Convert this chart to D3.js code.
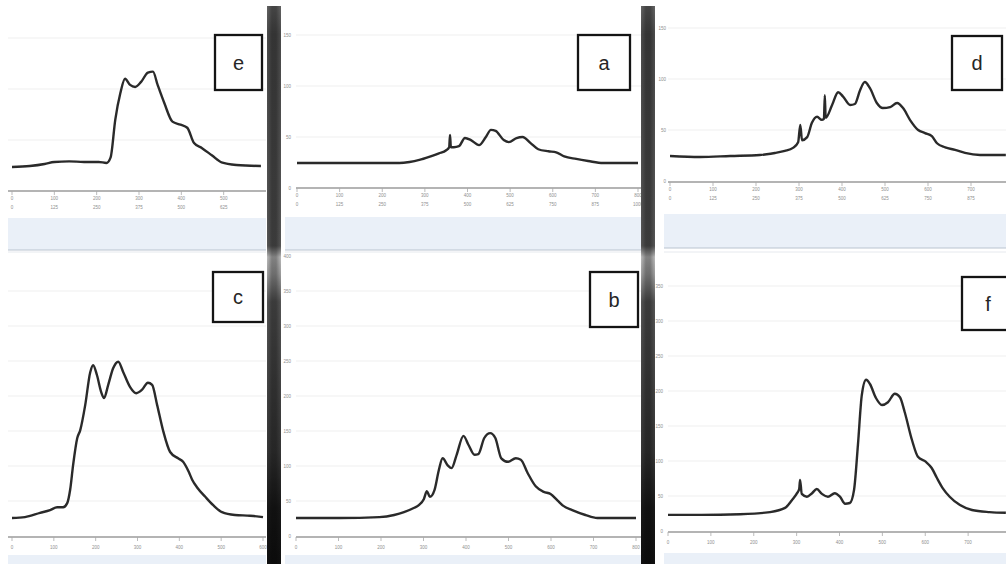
<!DOCTYPE html>
<html>
<head>
<meta charset="utf-8">
<script src="https://cdn.jsdelivr.net/npm/d3@7"></script>
<style>
  html, body { margin: 0; padding: 0; background: #fff; }
  svg { display: block; font-family: "Liberation Sans", Arial, sans-serif; }
</style>
</head>
<body>
<svg id="fig" width="1006" height="564"></svg>
<script>
// ---- spectra: channel number vs. counts for each sample ----
const channelsE = [0,42,77,100,135,170,205,223,233,244,256,267,279,291,305,321,333,344,360,379,398,414,430,449,472,495,530,588];
const countsE   = [23.5,24.5,26.5,28.5,29,28.5,28.5,27.5,33,70,96,110,104,102,107,116,117,104,86,68,65,62,47,42,35,28,25.5,24.5];

const channelsA = [0,100,240,264,287,310,333,350,357,359,361,368,380,394,408,427,443,455,466,485,497,515,529,548,566,590,608,627,655,683,718,753,800];
const countsA   = [24.5,24.5,24.5,25.5,27.5,30.5,34,37,40,52,40,40,41,49,47,42,50,57,56,47,45,49,50,44,38,36,35,31,28.5,26.5,24.5,24.5,24.5];

const channelsD = [0,70,140,209,244,267,286,298,303,307,319,330,342,353,358,360,362,377,391,402,419,430,442,453,465,481,495,512,528,542,558,577,593,609,621,640,663,686,721,781];
const countsD   = [24.5,23.5,24.5,25.5,27.5,29.5,32.5,38,55,40,43,57,63,60,61,84,62,74.5,87,83,74.5,75.5,89,97,91,76.5,71.5,72.5,76.5,71.5,60,50,47,44,37,33,30.5,27.5,25.5,25.5];

const channelsC = [0,31,67,91,108,122,132,139,146,156,163,175,187,194,203,213,220,230,242,254,266,282,297,311,325,335,347,361,378,397,409,423,431,443,462,481,502,533,569,600];
const countsC   = [25.7,27,33,37,41,41,47,66,101,140,151,187,234,244,230,206,197,216,240,249,234,213,204,209,219,216,187,151,120,111,106,91,80,69,56,44,34,30,29,27];

const channelsB = [0,103,196,231,254,277,289,301,308,315,326,336,345,357,366,378,394,406,420,429,443,457,469,483,499,517,529,545,564,583,599,615,629,650,681,709,800];
const countsB   = [25.7,25.7,27,30,34,40,44,53,64,56,66,94,111,101,97,116,143,130,116,117,140,147,140,111,106,111,109,90,71,63,60,51,43,37,30,25.7,25.7];

const channelsF = [0,75,168,238,273,289,301,306,308,312,324,336,347,359,373,389,401,413,424,434,443,452,462,471,485,499,513,529,541,552,569,583,601,615,627,641,657,681,709,750,788];
const countsF   = [23,23,24,27,33,44,54,60,73,53,49,54,60,53,49,54,49,39,40,59,123,194,216,210,190,180,184,196,191,170,130,106,99,90,76,61,49,37,30,27,26];

// ---- axis ticks ----
const channelTicks6 = [0,100,200,300,400,500,600];
const channelTicks8 = [0,100,200,300,400,500,600,700,800];
const energyLabels  = ["0","125","250","375","500","625","750","875","1000"];
const countTicksTop = [0,50,100,150];
const countTicksBottom = [0,50,100,150,200,250,300,350,400];
const panelLabels = ["e","a","d","c","b","f"];

// ---- panel geometry ----
const panels = [
  { label: panelLabels[0], ch: channelsE, ct: countsE, xTicks: channelTicks6, xRange: [12,266], plot: [8,266],
    axisY: 191, yZero: 191, k: 1.02, yTicks: countTicksTop, yLabelX: null, energy: true,
    box: [215,35,47,55], band: [8,218,258,32] },
  { label: panelLabels[1], ch: channelsA, ct: countsA, xTicks: channelTicks8, xRange: [297,638], plot: [296,641],
    axisY: 188, yZero: 188, k: 1.02, yTicks: countTicksTop, yLabelX: 291, energy: true,
    box: [578,35,52,55], band: [285,217,356,33] },
  { label: panelLabels[2], ch: channelsD, ct: countsD, xTicks: channelTicks8, xRange: [670,1014], plot: [668,1006],
    axisY: 182, yZero: 181, k: 1.02, yTicks: countTicksTop, yLabelX: 666, energy: true,
    box: [952,36,50,54], band: [664,214,342,34] },
  { label: panelLabels[3], ch: channelsC, ct: countsC, xTicks: channelTicks6, xRange: [12,263], plot: [8,266],
    axisY: 537, yZero: 536, k: 0.7, yTicks: countTicksBottom, yLabelX: null, energy: false,
    box: [213,272,50,50], band: [8,555,258,9] },
  { label: panelLabels[4], ch: channelsB, ct: countsB, xTicks: channelTicks8, xRange: [296,636], plot: [296,641],
    axisY: 537, yZero: 536, k: 0.7, yTicks: countTicksBottom, yLabelX: 291, energy: false,
    box: [590,272,48,55], band: [285,555,356,9] },
  { label: panelLabels[5], ch: channelsF, ct: countsF, xTicks: channelTicks8, xRange: [668,1011], plot: [668,1006],
    axisY: 532, yZero: 531, k: 0.7, yTicks: countTicksBottom, yLabelX: 663, energy: false,
    box: [962,277,52,53], band: [664,553,342,11] }
];

const svg = d3.select("#fig");
const defs = svg.append("defs");

defs.append("filter").attr("id", "soft")
  .attr("x", "-5%").attr("y", "-5%").attr("width", "110%").attr("height", "110%")
  .append("feGaussianBlur").attr("stdDeviation", 0.6);

// scroll-bar like dividers between the panel columns
const barGrad = defs.append("linearGradient").attr("id", "barGrad")
  .attr("x1", 0).attr("y1", 0).attr("x2", 0).attr("y2", 1);
[[0, "#6a6a6a"], [0.05, "#505050"], [0.43, "#5a5a5a"], [0.45, "#c6c6c6"], [0.48, "#a8a8a8"],
 [0.53, "#5a5a5a"], [0.8, "#3a3a3a"], [0.9, "#1a1a1a"], [1, "#111"]]
  .forEach(([o, c]) => barGrad.append("stop").attr("offset", o).attr("stop-color", c));
const barSide = defs.append("linearGradient").attr("id", "barSide")
  .attr("x1", 0).attr("y1", 0).attr("x2", 1).attr("y2", 0);
[[0, 0.05], [0.35, 0.35], [0.65, 0.35], [1, 0.05]]
  .forEach(([o, a]) => barSide.append("stop").attr("offset", o).attr("stop-color", "#000").attr("stop-opacity", a));

const line = d3.line().curve(d3.curveMonotoneX);

panels.forEach(p => {
  const x = d3.scaleLinear().domain([0, p.xTicks[p.xTicks.length - 1]]).range(p.xRange);
  const y = d3.scaleLinear().domain([0, 100]).range([p.yZero, p.yZero - 100 * p.k]);
  const g = svg.append("g");
  const clipId = "clip-" + p.label;
  defs.append("clipPath").attr("id", clipId)
    .append("rect").attr("x", p.plot[0] - 2).attr("y", 0)
    .attr("width", p.plot[1] - p.plot[0] + 4).attr("height", 564);

  // light band below the plot area
  g.append("rect").attr("x", p.band[0]).attr("y", p.band[1])
    .attr("width", p.band[2]).attr("height", p.band[3]).attr("fill", "#eaf0f8");
  if (p.energy) {
    g.append("line").attr("x1", p.band[0]).attr("x2", p.band[0] + p.band[2])
      .attr("y1", p.band[1] + p.band[3]).attr("y2", p.band[1] + p.band[3])
      .attr("stroke", "#b9c3d0").attr("stroke-width", 1.2);
  }

  // faint horizontal grid
  const plotTop = p.energy ? 20 : 258;
  g.append("g").selectAll("line")
    .data(p.yTicks.filter(v => v > 0 && y(v) > plotTop))
    .join("line")
    .attr("x1", p.plot[0]).attr("x2", p.plot[1])
    .attr("y1", d => y(d)).attr("y2", d => y(d))
    .attr("stroke", "#efefef").attr("stroke-width", 1);

  // y tick labels
  if (p.yLabelX !== null) {
    g.append("g").selectAll("text")
      .data(p.yTicks.filter(v => y(v) > plotTop - 6))
      .join("text")
      .attr("x", p.yLabelX).attr("y", d => y(d) + 2)
      .attr("text-anchor", "end")
      .attr("font-size", 4.5).attr("fill", "#8f8f8f")
      .text(d => d);
  }

  // x axis line, ticks and labels (only ticks that fall inside the plot)
  const shown = p.xTicks.filter(d => x(d) <= p.plot[1] - 2);
  g.append("line").attr("x1", p.plot[0]).attr("x2", p.plot[1])
    .attr("y1", p.axisY).attr("y2", p.axisY)
    .attr("stroke", "#9b9b9b").attr("stroke-width", 1.6);
  const ticks = g.append("g");
  ticks.selectAll("line").data(shown).join("line")
    .attr("x1", d => x(d)).attr("x2", d => x(d))
    .attr("y1", p.axisY).attr("y2", p.axisY + 4)
    .attr("stroke", "#aaa").attr("stroke-width", 0.8);
  ticks.selectAll("text.ch").data(shown).join("text").attr("class", "ch")
    .attr("x", d => x(d)).attr("y", p.axisY + (p.energy ? 9 : 12))
    .attr("text-anchor", "middle").attr("font-size", 4.5).attr("fill", "#8f8f8f")
    .text(d => d);
  if (p.energy) {
    ticks.selectAll("text.en").data(shown).join("text").attr("class", "en")
      .attr("x", d => x(d)).attr("y", p.axisY + 18)
      .attr("text-anchor", "middle").attr("font-size", 4.5).attr("fill", "#8f8f8f")
      .text(d => energyLabels[p.xTicks.indexOf(d)]);
  }

  // spectrum trace
  const pts = p.ch.map((c, i) => [x(c), y(p.ct[i])]);
  g.append("path").attr("d", line(pts))
    .attr("clip-path", `url(#${clipId})`)
    .attr("fill", "none").attr("stroke", "#2b2b2b")
    .attr("stroke-width", 2.4).attr("stroke-linejoin", "round")
    .attr("filter", "url(#soft)");

  // sample label box
  const [bx, by, bw, bh] = p.box;
  g.append("rect").attr("x", bx).attr("y", by).attr("width", bw).attr("height", bh)
    .attr("fill", "#fff").attr("stroke", "#141414").attr("stroke-width", 2.3);
  g.append("text").attr("x", bx + bw / 2).attr("y", by + bh / 2 + 7)
    .attr("text-anchor", "middle").attr("font-size", 20).attr("fill", "#262626")
    .text(p.label);
});

// dividers between the top and bottom rows
[[8, 266], [285, 641], [664, 1006]].forEach(([a, b]) => {
  svg.append("line").attr("x1", a).attr("x2", b).attr("y1", 252).attr("y2", 252)
    .attr("stroke", "#e6e9ee").attr("stroke-width", 1);
});

// vertical column dividers
[267, 641].forEach(bx => {
  svg.append("rect").attr("x", bx).attr("y", 6).attr("width", 14).attr("height", 558)
    .attr("fill", "url(#barGrad)");
  svg.append("rect").attr("x", bx).attr("y", 6).attr("width", 14).attr("height", 558)
    .attr("fill", "url(#barSide)");
});
</script>
</body>
</html>
